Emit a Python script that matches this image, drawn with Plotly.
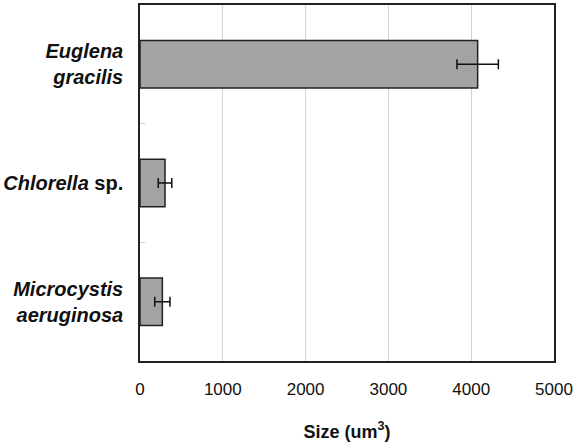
import plotly.graph_objects as go

species = ["<b><i>Euglena</i></b><br><b><i>gracilis</i></b>",
           "<b><i>Chlorella</i> sp.</b>",
           "<b><i>Microcystis</i></b><br><b><i>aeruginosa</i></b>"]
size_um3 = [4078, 302, 270]
size_err = [250, 82, 92]
x_ticks = [0, 1000, 2000, 3000, 4000, 5000]

fig = go.Figure(go.Bar(
    y=species, x=size_um3, orientation="h",
    marker=dict(color="#a3a3a3", line=dict(color="#222222", width=1.5)),
    error_x=dict(type="data", array=size_err, visible=True, color="#111111", thickness=1.5, width=5),
))

fig.update_layout(
    width=574, height=443,
    margin=dict(l=140, r=20, t=5, b=82),
    paper_bgcolor="white", plot_bgcolor="white",
    font=dict(family="Liberation Sans, Arial, sans-serif", size=17, color="#111111"),
    bargap=0.6,
    showlegend=False,
    xaxis=dict(range=[0, 5000], tickvals=x_ticks, showgrid=True, gridcolor="#d4d4d4", gridwidth=1,
               showline=True, linecolor="#222222", linewidth=1.5, mirror=True, ticks="",
               zeroline=False, ticklabelstandoff=12, automargin=False, tickfont=dict(size=17),
               title=dict(text="<b>Size (um<sup>3</sup>)</b>", standoff=27, font=dict(size=18))),
    yaxis=dict(autorange="reversed", categoryorder="array", categoryarray=species,
               showline=True, linecolor="#222222", linewidth=1.5, mirror=True,
               ticks="inside", tickson="boundaries", ticklen=5, tickcolor="#cccccc",
               showgrid=False, ticklabelstandoff=11, automargin=False, tickfont=dict(size=20)),
)

fig.write_html("out.html", config={"displayModeBar": False},
               post_script="document.body.style.margin='0';")
